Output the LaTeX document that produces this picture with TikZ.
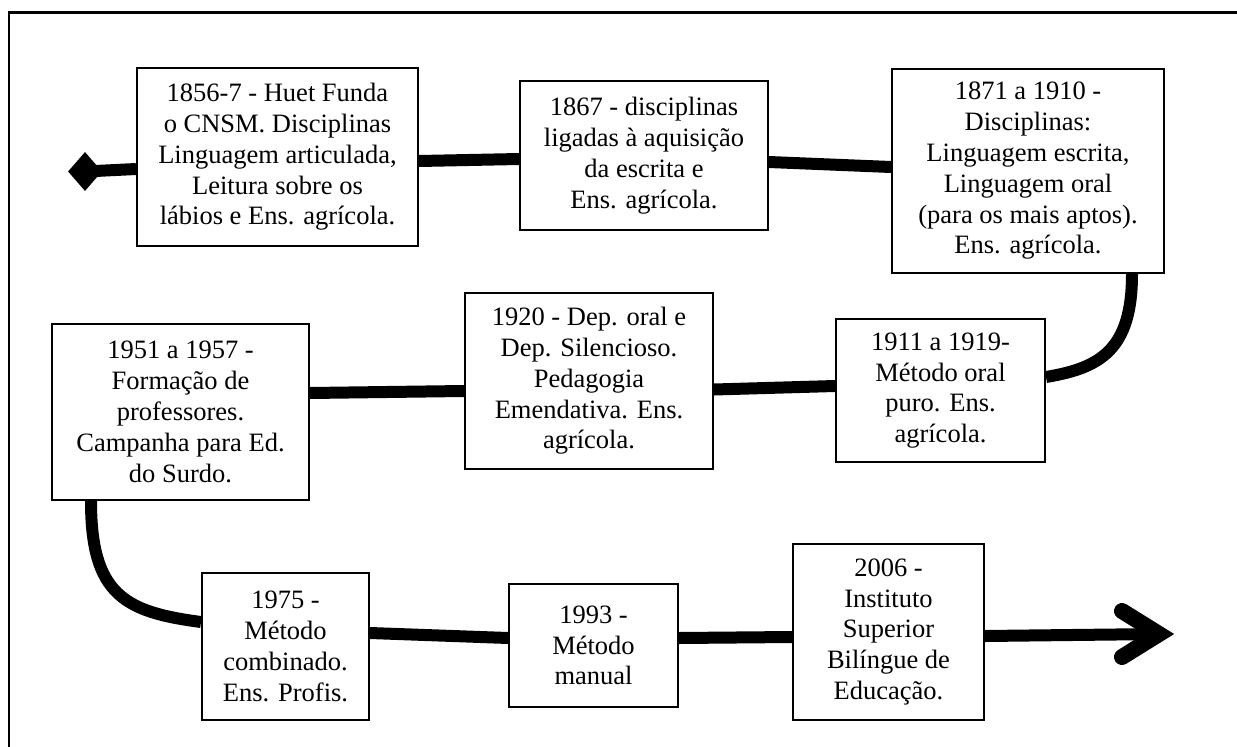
\documentclass[tikz,border=0pt]{standalone}
\usepackage{fontspec}
\setmainfont{Liberation Serif}
\usetikzlibrary{shapes.geometric}
\tikzset{
  evbox/.style={draw, line width=2pt, fill=white, inner sep=0pt, align=center,
    font=\fontsize{26.5}{30.8}\selectfont},
  tl/.style={line width=12pt, line cap=butt},
}
\begin{document}
\begin{tikzpicture}[x=1pt,y=-1pt]
\useasboundingbox (0,0) rectangle (1237,747);
\clip (0,0) rectangle (1237,747);
\fill[white] (0,0) rectangle (1237,747);
\draw[line width=2.5pt] (9,800) -- (9,12.5) -- (1300,12.5);

\node[evbox, minimum width=281pt, minimum height=178pt] (b1) at (277.5,157)
  {1856-7 - Huet Funda\\o CNSM. Disciplinas\\Linguagem articulada,\\Leitura sobre os\\lábios e Ens. agrícola.};
\node[evbox, minimum width=248pt, minimum height=149pt] (b2) at (644,155.5)
  {1867 - disciplinas\\ligadas à aquisição\\da escrita e\\Ens. agrícola.};
\node[evbox, minimum width=272pt, minimum height=204pt] (b3) at (1028,171)
  {1871 a 1910 -\\Disciplinas:\\Linguagem escrita,\\Linguagem oral\\(para os mais aptos).\\Ens. agrícola.};
\node[evbox, minimum width=209pt, minimum height=143pt] (b4) at (940.5,390.5)
  {1911 a 1919-\\Método oral\\puro. Ens.\\agrícola.};
\node[evbox, minimum width=248pt, minimum height=176pt] (b5) at (589,381)
  {1920 - Dep. oral e\\Dep. Silencioso.\\Pedagogia\\Emendativa. Ens.\\agrícola.};
\node[evbox, minimum width=257pt, minimum height=176pt] (b6) at (180.5,412)
  {1951 a 1957 -\\Formação de\\professores.\\Campanha para Ed.\\do Surdo.};
\node[evbox, minimum width=167pt, minimum height=147pt] (b7) at (285.5,646.5)
  {1975 -\\Método\\combinado.\\Ens. Profis.};
\node[evbox, minimum width=169pt, minimum height=123pt] (b8) at (593.5,645.5)
  {1993 -\\Método\\manual};
\node[evbox, minimum width=191pt, minimum height=176pt] (b9) at (888.5,632)
  {2006 -\\Instituto\\Superior\\Bilíngue de\\Educação.};

\node[diamond, fill=black, minimum width=34pt, minimum height=39pt, inner sep=0pt] (dia) at (85,171.5) {};
\coordinate (tip) at (1159,634);

\draw[tl] (dia.center) -- (b1.west |- 0,169);
\draw[tl] (b1.east |- 0,161) -- (b2.west |- 0,159);
\draw[tl] (b2.east |- 0,162) -- (b3.west |- 0,167);
\draw[tl] (b3.south -| 1132,0) .. controls (1132,350) and (1100,368) .. (b4.east |- 0,377);
\draw[tl] (b4.west |- 0,386) -- (b5.east |- 0,389.5);
\draw[tl] (b5.west |- 0,391) -- (b6.east |- 0,393);
\draw[tl] (b6.south -| 91,0) .. controls (91,595) and (125,612) .. (b7.west |- 0,622);
\draw[tl] (b7.east |- 0,633) -- (b8.west |- 0,638);
\draw[tl] (b8.east |- 0,638) -- (b9.west |- 0,637);
\draw[tl] (b9.east |- 0,636) -- (tip);
\draw[line width=16pt, line cap=round, line join=miter] (1122,611) -- (tip) -- (1122,657);
\end{tikzpicture}
\end{document}
